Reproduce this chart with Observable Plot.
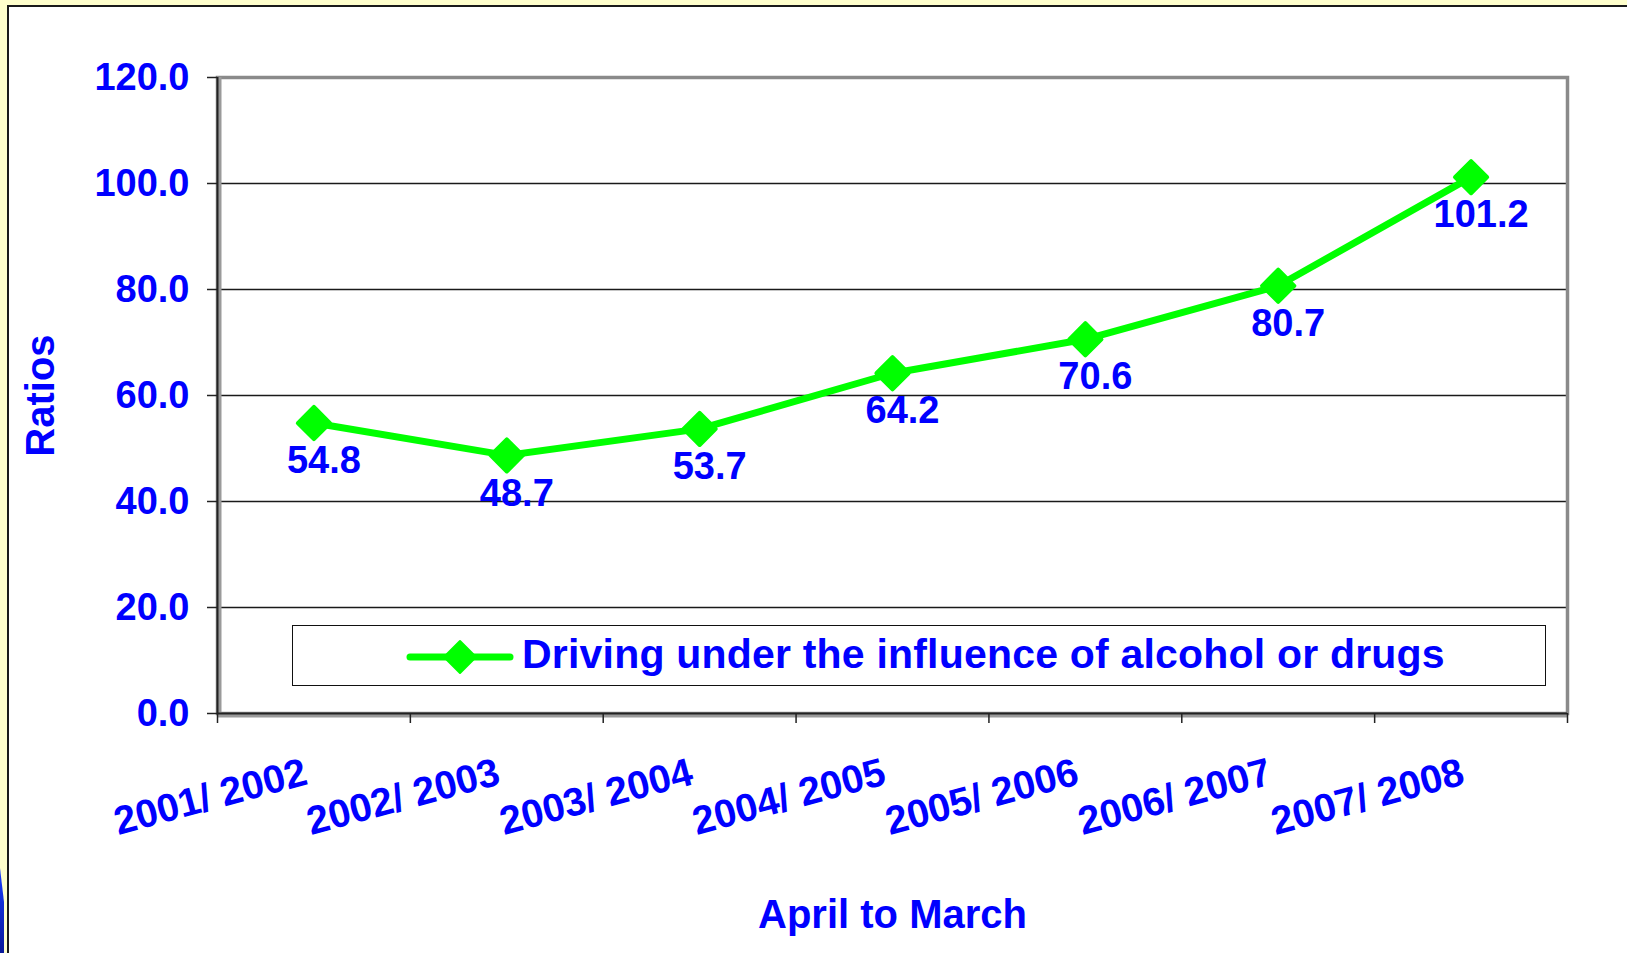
<!DOCTYPE html>
<html>
<head>
<meta charset="utf-8">
<script src="https://cdn.jsdelivr.net/npm/d3@7"></script>
<script src="https://cdn.jsdelivr.net/npm/@observablehq/plot@0.6"></script>
<style>
  html, body { margin: 0; padding: 0; }
  body { width: 1627px; height: 953px; background: #FFFFCC; position: relative; overflow: hidden;
         font-family: "Liberation Sans", Arial, sans-serif; }
  #panel { position: absolute; left: 7px; top: 5px; width: 1630px; height: 960px;
           background: #fff; border: 2px solid #1a1a1a; box-sizing: border-box; }
  #sliver { position: absolute; left: 0; top: 868px; width: 4px; height: 85px;
            background: linear-gradient(#1a3cff, #0a1a9a); clip-path: polygon(0 0, 100% 40%, 100% 100%, 0 100%); }
  #chart { position: absolute; left: 0; top: 0; }
  #legend { position: absolute; left: 292px; top: 625px; width: 1254px; height: 61px;
            border: 1.5px solid #111; box-sizing: border-box; background: #fff; }
  #legend svg { position: absolute; left: 113px; top: 11px; }
  #legend span { position: absolute; left: 229px; top: 4px; font-size: 41px; font-weight: bold; color: #0000FF;
                 white-space: nowrap; line-height: 48px; letter-spacing: 0.2px; }
</style>
</head>
<body>
<div id="panel"></div>
<div id="sliver"></div>
<div id="chart"></div>
<div id="legend">
  <svg width="110" height="40" viewBox="0 0 110 40">
    <line x1="4" y1="20" x2="104" y2="20" stroke="#00FF00" stroke-width="7" stroke-linecap="round"/>
    <path d="M54,4 L70,20 L54,36 L38,20 Z" fill="#00FF00" stroke="#00FF00" stroke-width="2" stroke-linejoin="round"/>
  </svg>
  <span id="legendText"></span>
</div>
<script>
const periods = ["2001/ 2002", "2002/ 2003", "2003/ 2004", "2004/ 2005", "2005/ 2006", "2006/ 2007", "2007/ 2008"];
const ratios = [54.8, 48.7, 53.7, 64.2, 70.6, 80.7, 101.2];
const yTicks = [0, 20, 40, 60, 80, 100, 120];
const seriesName = "Driving under the influence of alcohol or drugs";
const yTitle = "Ratios";
const xTitle = "April to March";

const data = periods.map((period, i) => ({period, pos: i + 0.5, ratio: ratios[i]}));
const bounds = d3.range(periods.length + 1);
const centers = data.map(d => d.pos);

document.getElementById("legendText").textContent = seriesName;

const chart = Plot.plot({
  width: 1627,
  height: 953,
  marginLeft: 217,
  marginTop: 77,
  marginRight: 60,
  marginBottom: 240,
  style: {fontFamily: "'Liberation Sans', Arial, sans-serif", fontWeight: "bold", background: "transparent", overflow: "visible"},
  x: {domain: [0, periods.length], axis: null, label: null},
  y: {domain: [0, 120], axis: null, label: null},
  marks: [
    Plot.gridY(yTicks.slice(1, -1), {stroke: "#1a1a1a", strokeOpacity: 1, strokeWidth: 1.3}),
    Plot.frame({stroke: "#8a8a8a", strokeWidth: 3.5}),
    Plot.ruleX([0], {stroke: "#9a9a9a", strokeWidth: 4, dx: 2}),
    Plot.ruleX([0], {stroke: "#222", strokeWidth: 2}),
    Plot.ruleY([0], {stroke: "#9a9a9a", strokeWidth: 4, dy: 2}),
    Plot.ruleY([0], {stroke: "#222", strokeWidth: 2}),
    Plot.axisY({ticks: yTicks, tickSize: 10, tickPadding: 18, tickFormat: d => d.toFixed(1),
      fontSize: 38, fill: "#0000FF", stroke: "#222", strokeWidth: 1.5, label: null}),
    Plot.axisX({ticks: bounds, tickSize: 10, tickFormat: () => "", stroke: "#222", strokeWidth: 1.5, label: null}),
    Plot.axisX({ticks: centers, tickSize: 0, tickPadding: 0, tickFormat: d => periods[Math.floor(d)],
      tickRotate: -15, textAnchor: "end", lineAnchor: "middle", dx: -8, dy: 58,
      fontSize: 39.5, fill: "#0000FF", label: null}),
    Plot.text([yTitle], {frameAnchor: "left", textAnchor: "middle", lineAnchor: "middle", dx: -176, rotate: -90,
      fontSize: 40, fontWeight: "bold", fill: "#0000FF"}),
    Plot.text([xTitle], {frameAnchor: "bottom", textAnchor: "middle", lineAnchor: "middle", dy: 202,
      fontSize: 40, fontWeight: "bold", fill: "#0000FF"}),
    Plot.line(data, {x: "pos", y: "ratio", stroke: "#00FF00", strokeWidth: 7}),
    Plot.dot(data, {x: "pos", y: "ratio", symbol: "diamond2", r: 14.5, fill: "#00FF00",
      stroke: "#00FF00", strokeWidth: 4, strokeLinejoin: "round"}),
    Plot.text(data, {x: "pos", y: "ratio", text: d => d.ratio.toFixed(1), dx: 10, dy: 38,
      fontSize: 38, fontWeight: "bold", fill: "#0000FF"})
  ]
});
document.getElementById("chart").appendChild(chart);
</script>
</body>
</html>
